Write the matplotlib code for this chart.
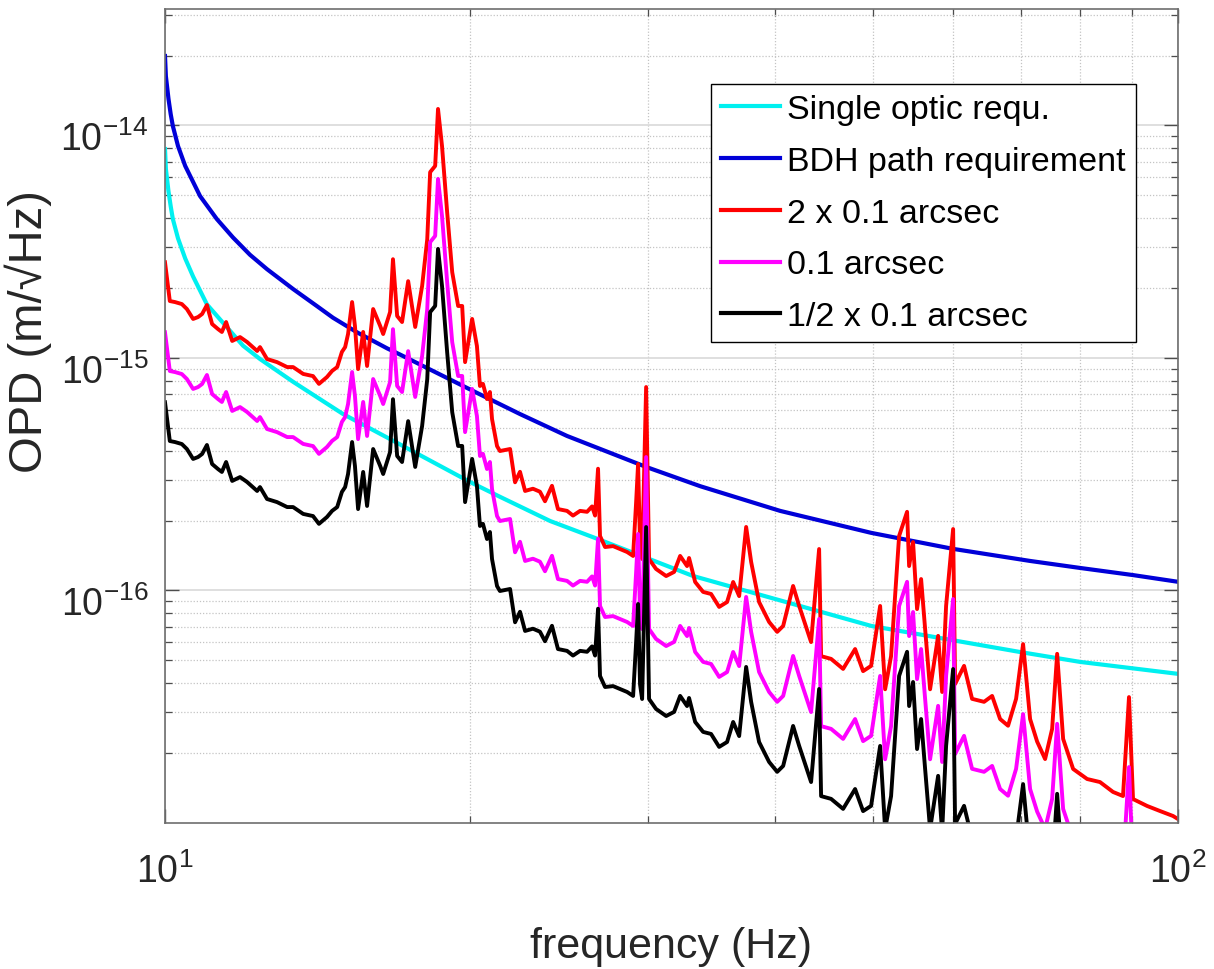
import numpy as np
import matplotlib
matplotlib.use("Agg")
import matplotlib.pyplot as plt
from matplotlib.ticker import LogLocator, NullFormatter, FixedLocator, FixedFormatter
from matplotlib.transforms import ScaledTranslation

# ---------------- data ----------------
# Requirement curves (units of 1e-16 m/sqrt(Hz))
bdh_freq = [10.00, 10.02, 10.08, 10.13, 10.18, 10.30, 10.47, 10.83, 11.25, 11.67,
            12.13, 12.61, 13.38, 14.13, 14.65, 15.47, 16.57, 17.06, 20.15, 22.41,
            24.94, 29.85, 33.75, 40.48, 49.78, 59.98, 71.45, 80.06, 90.28, 100.0]
bdh_req_e16 = [199, 163, 130, 112, 99.5, 81.6, 67.0, 49.7, 39.6, 33.0,
               27.8, 24.1, 19.8, 16.7, 14.9, 12.9, 11.0, 10.35, 7.21, 5.74,
               4.62, 3.40, 2.81, 2.20, 1.77, 1.51, 1.34, 1.25, 1.165, 1.09]

single_freq = [10.00, 10.02, 10.08, 10.13, 10.18, 10.30, 10.47, 10.66, 11.00, 11.94,
               12.41, 13.38, 14.99, 17.06, 20.00, 21.41, 24.00, 26.70, 33.20, 49.80,
               69.80, 80.06, 100.0]
single_req_e16 = [79.2, 65.0, 52.0, 45.0, 39.6, 32.7, 26.8, 22.4, 17.0, 11.3,
                  9.9, 7.9, 5.74, 4.25, 2.93, 2.53, 1.99, 1.67, 1.155, 0.704,
                  0.544, 0.493, 0.438]

# Measured OPD spectrum for 0.1 arcsec (units of 1e-16 m/sqrt(Hz))
freq_hz = [10.00, 10.11, 10.23, 10.39, 10.51, 10.66, 10.78, 10.88, 11.00, 11.13,
           11.28, 11.38, 11.49, 11.65, 11.86, 12.05, 12.33, 12.41, 12.61, 12.90,
           13.20, 13.38, 13.69, 14.00, 14.19, 14.45, 14.62, 14.79, 14.95, 15.06,
           15.16, 15.30, 15.40, 15.51, 15.69, 15.83, 16.05, 16.31, 16.42, 16.68,
           16.79, 16.95, 17.14, 17.38, 17.66, 17.94, 18.15, 18.27, 18.48, 18.60,
           18.77, 18.99, 19.21, 19.47, 19.65, 19.78, 20.10, 20.32, 20.46, 20.60,
           20.79, 20.93, 21.03, 21.27, 21.41, 21.91, 22.16, 22.41, 22.67, 23.08,
           23.45, 23.72, 24.10, 24.43, 24.94, 25.28, 25.69, 26.10, 26.40, 26.58,
           26.76, 26.88, 27.19, 27.69, 28.13, 28.59, 28.98, 29.18, 29.31, 29.44,
           29.58, 29.85, 30.05, 30.53, 31.24, 31.81, 32.25, 32.76, 32.91, 33.37,
           33.98, 34.60, 35.24, 35.88, 36.38, 36.88, 37.47, 37.90, 38.59, 39.48,
           40.21, 40.76, 41.69, 42.27, 43.43, 44.23, 44.43, 45.45, 46.71, 48.00,
           48.88, 49.78, 50.81, 51.39, 52.09, 53.05, 54.02, 54.27, 54.76, 55.26,
           55.77, 56.28, 56.92, 57.97, 58.50, 59.03, 59.98, 60.25, 61.49, 62.62,
           64.35, 65.54, 66.74, 67.96, 69.21, 70.32, 71.45, 72.60, 73.93, 75.12,
           75.98, 77.02, 78.79, 81.34, 83.75, 86.27, 88.25, 89.46, 90.28, 93.21,
           95.99, 98.87, 100.0]
opd_01arcsec_e16 = [12.9, 8.79, 8.70, 8.53, 8.12, 7.36, 7.50, 7.73, 8.45, 7.00,
                    6.66, 6.47, 7.14, 5.92, 6.15, 5.86, 5.36, 5.57, 4.95, 4.80,
                    4.57, 4.57, 4.27, 4.18, 3.87, 4.14, 4.40, 4.57, 5.31, 5.57,
                    6.34, 8.70, 6.86, 4.48, 6.47, 4.62, 8.12, 6.86, 6.34, 7.88,
                    13.3, 7.58, 7.14, 10.7, 6.80, 10.2, 16.2, 31.5, 33.5, 58.9,
                    40.8, 21.2, 11.7, 8.37, 8.37, 4.80, 7.36, 5.63, 3.79, 3.87,
                    3.33, 3.57, 2.73, 2.09, 1.99, 2.03, 1.46, 1.62, 1.34, 1.37,
                    1.33, 1.21, 1.41, 1.12, 1.10, 1.05, 1.10, 1.09, 1.15, 1.05,
                    1.67, 0.858, 0.769, 0.776, 0.754, 0.732, 0.704, 1.20, 1.75, 0.79,
                    0.683, 3.75, 0.683, 0.619, 0.577, 0.601, 0.704, 0.637, 0.69, 0.544,
                    0.493, 0.483, 0.425, 0.446, 0.544, 0.473, 0.938, 0.663, 0.446, 0.366,
                    0.332, 0.352, 0.523, 0.429, 0.300, 0.754, 0.261, 0.254, 0.230, 0.280,
                    0.225, 0.237, 0.429, 0.188, 0.261, 0.858, 1.09, 0.637, 0.808, 0.416,
                    0.560, 0.342, 0.188, 0.319, 0.183, 0.429, 0.919, 0.198, 0.237, 0.171,
                    0.166, 0.176, 0.140, 0.131, 0.171, 0.294, 0.140, 0.112, 0.0942, 0.127,
                    0.267, 0.115, 0.0854, 0.0773, 0.0750, 0.0680, 0.0653, 0.174, 0.0634, 0.0592,
                    0.0563, 0.0536, 0.0520]

tilt_factors = [2.0, 1.0, 0.5]
labels = ['Single optic requ.', 'BDH path requirement',
          '2 x 0.1 arcsec', '0.1 arcsec', '1/2 x 0.1 arcsec']
colors = ['#00F0F0', '#0000D8', '#FF0000', '#FF00FF', '#000000']

# ---------------- style ----------------
plt.rcParams['font.family'] = ['Liberation Sans', 'DejaVu Sans']
plt.rcParams['mathtext.fontset'] = 'custom'
plt.rcParams['mathtext.rm'] = 'Liberation Sans'
plt.rcParams['mathtext.it'] = 'Liberation Sans:italic'
plt.rcParams['axes.unicode_minus'] = False

W, H = 1214, 970
fig = plt.figure(figsize=(W / 100, H / 100), dpi=100)
L, R, T, B = 165, 1178, 10, 824
ax = fig.add_axes([L / W, 1 - B / H, (R - L) / W, (B - T) / H])

e16 = 1e-16
ax.plot(single_freq, np.array(single_req_e16) * e16, color=colors[0], lw=3.0,
        label=labels[0])
ax.plot(bdh_freq, np.array(bdh_req_e16) * e16, color=colors[1], lw=3.0,
        label=labels[1])
base = np.array(opd_01arcsec_e16) * e16
for k, fac in enumerate(tilt_factors):
    ax.plot(freq_hz, base * fac, color=colors[2 + k], lw=2.8, label=labels[2 + k])

ax.set_xscale('log')
ax.set_yscale('log')
ax.set_xlim(10, 100)
ax.set_ylim(1.0e-17, 3.17e-14)

ax.xaxis.set_major_locator(FixedLocator([10, 100]))
ax.xaxis.set_major_formatter(FixedFormatter([r'$\mathregular{10^{1}}$',
                                             r'$\mathregular{10^{2}}$']))
ax.xaxis.set_minor_locator(LogLocator(base=10, subs=np.arange(2, 10), numticks=20))
ax.xaxis.set_minor_formatter(NullFormatter())

ax.yaxis.set_major_locator(FixedLocator([1e-16, 1e-15, 1e-14]))
ax.yaxis.set_major_formatter(FixedFormatter([r'$\mathregular{10^{-16}}$',
                                             r'$\mathregular{10^{-15}}$',
                                             r'$\mathregular{10^{-14}}$']))
ax.yaxis.set_minor_locator(LogLocator(base=10, subs=np.arange(2, 10), numticks=30))
ax.yaxis.set_minor_formatter(NullFormatter())

ax.set_axisbelow(True)
ax.grid(True, which='major', color='#d9d9d9', lw=1.2, ls='-')
ax.grid(True, which='minor', color='#c4c4c4', lw=0.9, ls=(0, (1, 1.5)))

ax.tick_params(which='both', direction='in', top=True, right=True,
               color='#4d4d4d', labelcolor='#262626')
ax.tick_params(which='major', length=10, width=1.0, labelsize=27)
ax.tick_params(axis='y', which='major', pad=12)
ax.tick_params(axis='x', which='major', pad=21)
ax.tick_params(which='minor', length=5, width=0.9)
for s in ax.spines.values():
    s.set_color('#6e6e6e')
    s.set_linewidth(1.2)

shift_down = ScaledTranslation(0, -7 / 72, fig.dpi_scale_trans)
for lab in ax.get_yticklabels():
    lab.set_transform(lab.get_transform() + shift_down)

ax.set_xlabel('frequency (Hz)', fontsize=31, color='#262626', labelpad=26)
ax.set_ylabel('OPD (m/\u221aHz)', fontsize=34, color='#262626')
ax.yaxis.set_label_coords(-0.112, 0.605)

leg = ax.legend(loc='upper right', bbox_to_anchor=((1136 - L) / (R - L), (B - 85) / (B - T)),
                borderaxespad=0, fontsize=24.5, frameon=True, fancybox=False,
                edgecolor='black', framealpha=1, handlelength=1.75,
                handletextpad=0.2, borderpad=0.3, labelspacing=0.61)
leg.get_frame().set_linewidth(1.0)
for ln in leg.get_lines():
    ln.set_linewidth(3.0)

fig.savefig('out.png', dpi=100)
